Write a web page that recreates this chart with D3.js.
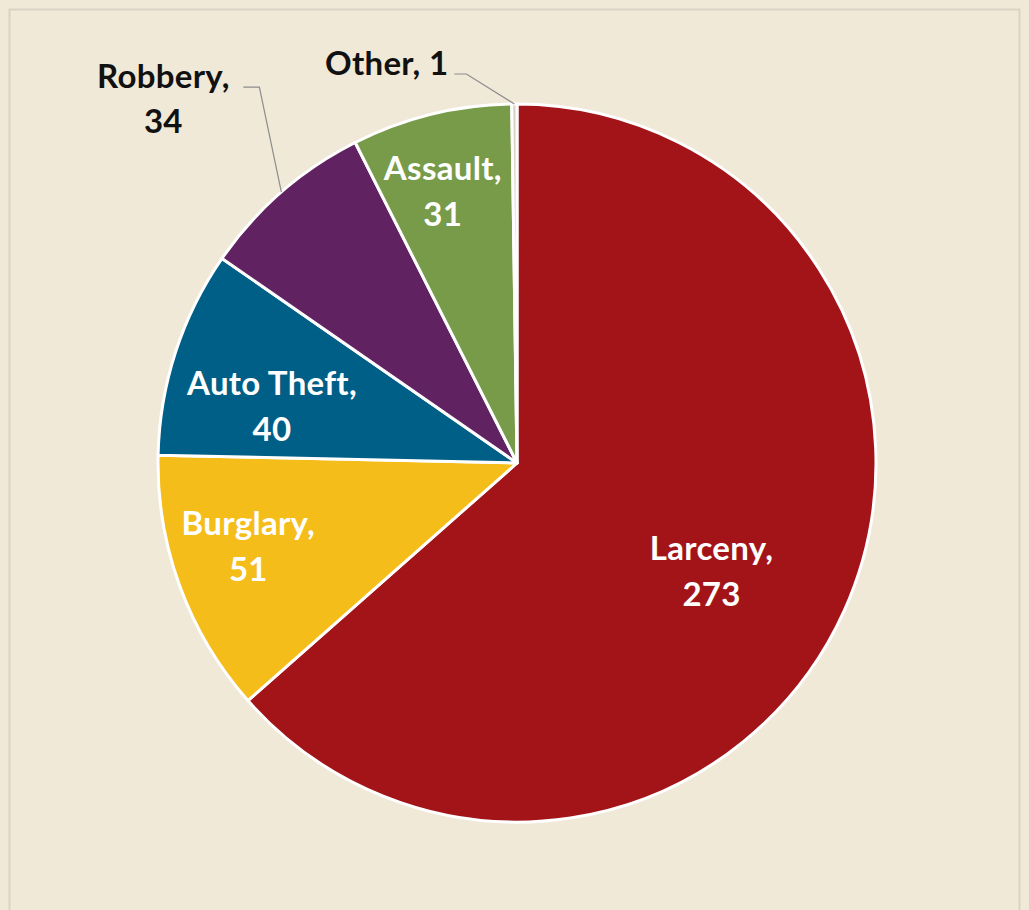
<!DOCTYPE html>
<html>
<head>
<meta charset="utf-8">
<script src="https://cdn.jsdelivr.net/npm/d3@7"></script>
<style>
  html, body { margin: 0; padding: 0; background: #f0e9d8; }
  svg { display: block; }
  .lbl { font-family: Lato, "Open Sans", sans-serif; font-weight: 700; font-size: 33px; letter-spacing: 0.3px; }
</style>
</head>
<body>
<div class="chart"></div>
<script>
const categories = ["Larceny", "Burglary", "Auto Theft", "Robbery", "Assault", "Other"];
const counts = [273, 51, 40, 34, 31, 1];
const colors = ["#a31419", "#f5bd19", "#005f86", "#612262", "#779b49", "#d8d0c0"];

const w = 1029, h = 910;
const cx = 517, cy = 463, r = 359;

const svg = d3.select(".chart").append("svg").attr("width", w).attr("height", h);

// chart frame
svg.append("rect")
  .attr("x", 9.5).attr("y", 9.5)
  .attr("width", w - 19).attr("height", h)
  .attr("fill", "#f0e9d8")
  .attr("stroke", "#d9d3c5")
  .attr("stroke-width", 2);

const data = categories.map((c, i) => ({ name: c, value: counts[i], color: colors[i] }));

const pie = d3.pie().value((d) => d.value).sort(null);
const arcs = pie(data);
const arc = d3.arc().innerRadius(0).outerRadius(r);

const g = svg.append("g").attr("transform", "translate(" + cx + "," + cy + ")");

g.selectAll("path")
  .data(arcs)
  .enter()
  .append("path")
  .attr("d", arc)
  .attr("fill", (d) => d.data.color)
  .attr("stroke", "#ffffff")
  .attr("stroke-width", 3)
  .attr("stroke-linejoin", "round");

// inside labels: radius factor per slice, tuned to look like excel's best fit
const inside = { "Larceny": 0.622, "Burglary": 0.785, "Auto Theft": 0.70, "Assault": 0.784 };
const nudge = { "Larceny": [-9, 17], "Burglary": [-4, -13], "Auto Theft": [-6, 22], "Assault": [-7, 2] };
const lineGap = 46;

arcs.filter((d) => inside[d.data.name]).forEach((d) => {
  const f = inside[d.data.name];
  const c = d3.arc().innerRadius(r * f).outerRadius(r * f).centroid(d);
  const x = c[0] + nudge[d.data.name][0], y = c[1] + nudge[d.data.name][1];
  const t = g.append("text").attr("class", "lbl").attr("fill", "#ffffff")
    .attr("text-anchor", "middle").attr("x", x).attr("y", y - 12);
  t.append("tspan").attr("x", x).text(d.data.name + ",");
  t.append("tspan").attr("x", x).attr("dy", lineGap).text(d.data.value);
});

// outside labels with leader lines
const rim = d3.arc().innerRadius(r).outerRadius(r);
function leader(pts) {
  g.append("polyline")
    .attr("points", pts.map((p) => p.join(",")).join(" "))
    .attr("fill", "none")
    .attr("stroke", "#8c8c8c")
    .attr("stroke-width", 1.2);
}

const rob = arcs.find((d) => d.data.name === "Robbery");
const rp = rim.centroid(rob);
leader([rp, [rp[0] - 22, rp[1] - 105], [rp[0] - 38, rp[1] - 105]]);
const rt = g.append("text").attr("class", "lbl").attr("fill", "#111111").attr("text-anchor", "middle")
  .attr("y", rp[1] - 104);
rt.append("tspan").attr("x", rp[0] - 118).text(rob.data.name + ",");
rt.append("tspan").attr("x", rp[0] - 118).attr("dy", lineGap - 1).text(rob.data.value);

const oth = arcs.find((d) => d.data.name === "Other");
const op = rim.centroid(oth);
leader([op, [op[0] - 48, op[1] - 30], [op[0] - 60, op[1] - 30]]);
g.append("text").attr("class", "lbl").attr("fill", "#111111").attr("text-anchor", "end")
  .attr("x", op[0] - 66).attr("y", op[1] - 29)
  .text(oth.data.name + ", " + oth.data.value);
</script>
</body>
</html>
